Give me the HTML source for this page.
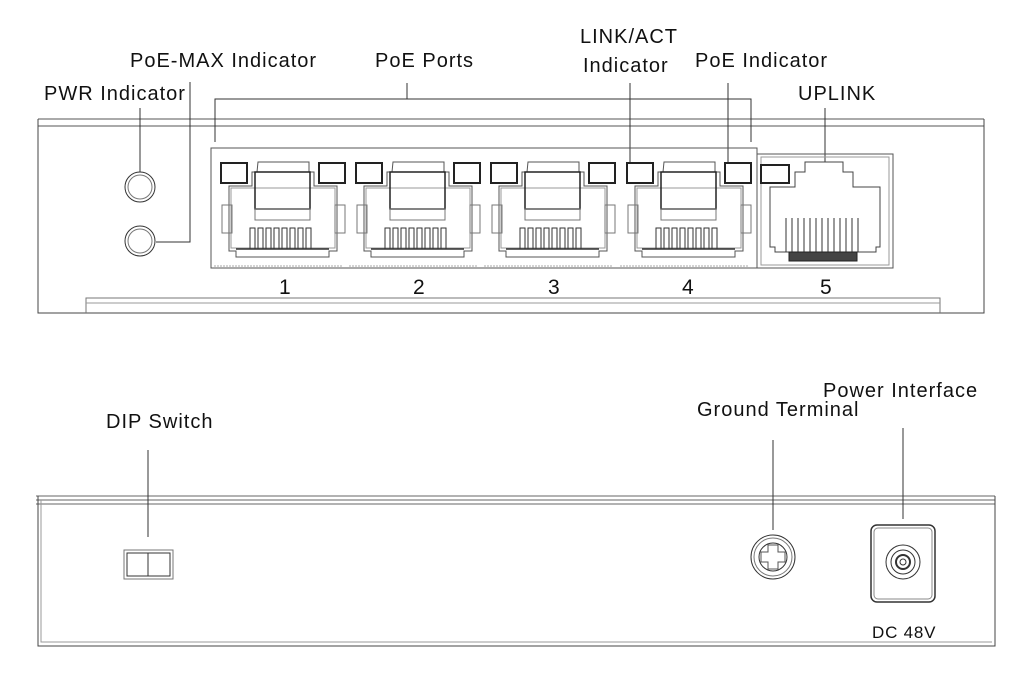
<!DOCTYPE html>
<html><head><meta charset="utf-8"><style>
html,body{margin:0;padding:0;background:#fff;}
svg{display:block;}
text{font-family:"Liberation Sans",sans-serif;fill:#111;}
.l{font-size:20px;letter-spacing:1px;}
</style></head><body>
<svg width="1035" height="689" viewBox="0 0 1035 689" xmlns="http://www.w3.org/2000/svg">
<defs>
<g id="port" fill="none" stroke="#222" stroke-width="1">
  <rect x="10" y="15" width="26" height="20" stroke-width="2"/>
  <rect x="108" y="15" width="26" height="20" stroke-width="2"/>
  <path d="M47 14 H98 V24 H103 V38 H126 V103 H118 V109 H25 V103 H18 V38 H41 V24 H46 Z" stroke="#555"/>
  <path d="M20 40 H124 V100 H20 Z" stroke="#999"/>
  <rect x="44" y="24" width="55" height="37" stroke-width="1.5"/>
  <rect x="44" y="61" width="55" height="11" stroke="#777"/>
  <rect x="11" y="57" width="10" height="28" stroke="#777"/>
  <rect x="124" y="57" width="10" height="28" stroke="#777"/>
  <path d="M39 101 V80 h5 v21 M47 101 V80 h5 v21 M55 101 V80 h5 v21 M63 101 V80 h5 v21 M71 101 V80 h5 v21 M79 101 V80 h5 v21 M87 101 V80 h5 v21 M95 101 V80 h5 v21" stroke="#333"/>
  <path d="M25 101 H118" stroke="#333" stroke-width="1.5"/>
  <path d="M3 118 H132" stroke="#aaa" stroke-dasharray="2 1"/>
</g>
</defs>

<text class="l" x="130" y="67">PoE-MAX Indicator</text>
<text class="l" x="375" y="67">PoE Ports</text>
<text class="l" x="580" y="43">LINK/ACT</text>
<text class="l" x="583" y="72">Indicator</text>
<text class="l" x="695" y="67">PoE Indicator</text>
<text class="l" x="44" y="100">PWR Indicator</text>
<text class="l" x="798" y="100">UPLINK</text>

<g stroke="#333" fill="none" stroke-width="1">
  <path d="M38 119 H984 M38 126 H984" stroke="#555"/>
  <path d="M38 119 V313 H984 V119" stroke="#444"/>
  <path d="M86 313 V298 H940 V313" stroke="#777"/>
  <path d="M86 303 H940" stroke="#999"/>
  <path d="M140 108 V172"/>
  <path d="M190 82 V242 H156"/>
  <path d="M407 83 V99 M215 142 V99 H751 V142"/>
  <path d="M630 83 V163"/>
  <path d="M728 83 V163"/>
  <path d="M825 108 V162"/>
  <circle cx="140" cy="187" r="15"/><circle cx="140" cy="187" r="12" stroke="#777"/>
  <circle cx="140" cy="241" r="15"/><circle cx="140" cy="241" r="12" stroke="#777"/>
  <rect x="211" y="148" width="546" height="120" stroke="#555"/>
  <rect x="757" y="154" width="136" height="114" stroke="#555"/>
  <rect x="761" y="157" width="128" height="108" stroke="#999"/>
</g>
<use href="#port" x="211" y="148"/>
<use href="#port" x="346" y="148"/>
<use href="#port" x="481" y="148"/>
<use href="#port" x="617" y="148"/>
<g fill="none" stroke="#222">
  <rect x="761" y="165" width="28" height="18" stroke-width="2"/>
  <path d="M805 162 H843 V172 H853 V187 H880 V247 H876 V252 H775 V247 H770 V187 H795 V172 H805 Z" stroke="#444"/>
  <path d="M786 252 V218 M792 252 V218 M798 252 V218 M804 252 V218 M810 252 V218 M816 252 V218 M822 252 V218 M828 252 V218 M834 252 V218 M840 252 V218 M846 252 V218 M852 252 V218 M858 252 V218" stroke="#333"/>
  <rect x="789" y="252" width="68" height="9" fill="#444" stroke="#222"/>
</g>
<g font-size="21">
<text x="279" y="294">1</text><text x="413" y="294">2</text><text x="548" y="294">3</text><text x="682" y="294">4</text><text x="820" y="294">5</text>
</g>

<text class="l" x="106" y="428">DIP Switch</text>
<text class="l" x="697" y="416">Ground Terminal</text>
<text class="l" x="823" y="397">Power Interface</text>
<text x="872" y="638" font-size="17" letter-spacing="0.8">DC 48V</text>

<g stroke="#333" fill="none" stroke-width="1">
  <path d="M36 496 H995 M36 500 H995 M36 504 H995" stroke="#666"/>
  <path d="M38 496 V646 H995 V496" stroke="#444"/>
  <path d="M41 500 V642 H992" stroke="#999"/>
  <path d="M148 450 V537"/>
  <rect x="124" y="550" width="49" height="29" stroke="#777"/>
  <rect x="127" y="553" width="43" height="23"/>
  <path d="M148 553 V576"/>
  <path d="M773 440 V530"/>
  <circle cx="773" cy="557" r="22"/><circle cx="773" cy="557" r="19" stroke="#777"/><circle cx="773" cy="557" r="14"/>
  <path d="M768 545 h10 v7 h7 v10 h-7 v7 h-10 v-7 h-7 v-10 h7 Z" stroke="#555"/>
  <path d="M903 428 V519"/>
  <rect x="871" y="525" width="64" height="77" rx="6" stroke-width="1.5"/>
  <rect x="874" y="528" width="58" height="71" rx="4" stroke="#888"/>
  <circle cx="903" cy="562" r="17"/><circle cx="903" cy="562" r="12"/><circle cx="903" cy="562" r="7" stroke-width="2"/><circle cx="903" cy="562" r="3"/>
</g>
</svg>
</body></html>
